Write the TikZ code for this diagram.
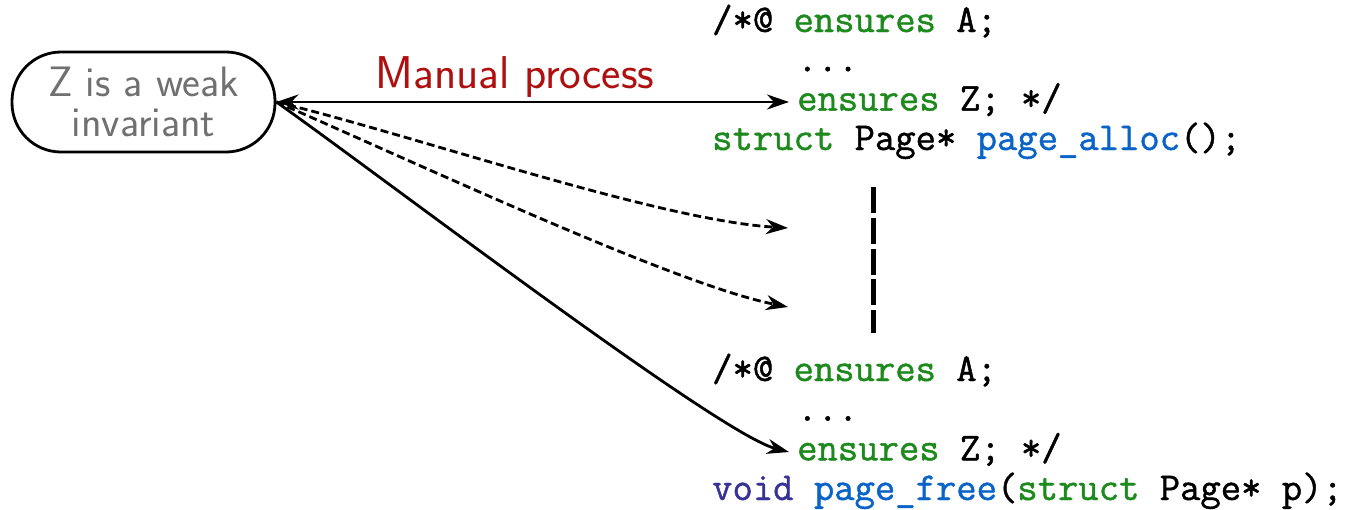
\documentclass[tikz,border=0pt]{standalone}
\usepackage{fontspec}
\usetikzlibrary{arrows.meta,calc}
\newfontfamily\codefont{Latin Modern Mono}[FakeBold=1.2]
\definecolor{kwgreen}{RGB}{30,138,30}
\definecolor{fnblue}{RGB}{10,100,200}
\definecolor{tyblue}{RGB}{55,50,150}
\definecolor{mred}{RGB}{175,15,15}
\definecolor{txtgray}{RGB}{112,112,112}
\newcommand{\kw}[1]{\textcolor{kwgreen}{#1}}
\newcommand{\fn}[1]{\textcolor{fnblue}{#1}}
\newcommand{\ty}[1]{\textcolor{tyblue}{#1}}
\begin{document}
\begin{tikzpicture}[x=1pt,y=-1pt,
  code/.style={anchor=base west, inner sep=0pt,
    font=\codefont\fontsize{39.5}{40}\selectfont},
  link/.style={line width=2.8pt, -{Stealth[length=22pt,width=15pt,inset=7pt]}},
  hint/.style={link, dash pattern=on 8pt off 4pt},
  claim/.style={draw, line width=2.8pt, rounded corners=49pt,
    minimum width=263pt, minimum height=100pt, align=center,
    text=txtgray, font=\sffamily\fontsize{42.5}{40}\selectfont},
  gap/.style={line width=5pt, dash pattern=on 26pt off 4.75pt}]
\useasboundingbox (0,0) rectangle (1354,509);

% invariant bubble and label
\node[claim] (inv) at (143.5,102) {Z is a weak\\invariant};
\node[anchor=base, inner sep=0pt, text=mred,
  font=\sffamily\fontsize{46}{46}\selectfont] (lbl) at (515,88) {Manual process};

% allocation contract
\node[code] (a1) at (712,32)    {/*@ \kw{ensures} A;};
\node[code] (a2) at (797,71.3)  {...};
\node[code] (a3) at (797,110.6) {\kw{ensures} Z; */};
\node[code] (a4) at (712,150)   {\kw{struct} Page* \fn{page\_alloc}();};

% free contract
\node[code] (f1) at (712,381)   {/*@ \kw{ensures} A;};
\node[code] (f2) at (797,420.7) {...};
\node[code] (f3) at (797,460.3) {\kw{ensures} Z; */};
\node[code] (f4) at (712,500)   {\ty{void} \fn{page\_free}(\kw{struct} Page* p);};

% elided functions in between
\coordinate (t1) at (788,228);
\coordinate (t2) at (788,307);
\coordinate (g1) at (873,187);
\coordinate (g2) at (873,333);
\draw[gap] (g1) -- (g2);

% arrow ends just before the ensures clauses
\coordinate (a3in) at ($(a3.base west)+(-8,-8.6)$);
\coordinate (f3in) at ($(f3.base west)+(-8,-8.3)$);

% connectors
\draw[link, {Stealth[length=22pt,width=15pt,inset=7pt]}-{Stealth[length=22pt,width=15pt,inset=7pt]}]
  (inv.east) -- (a3in);
\draw[hint] (inv.east) .. controls +(140,34) and +(-130,-8) .. (t1);
\draw[hint] (inv.east) .. controls +(160,70) and +(-110,-22) .. (t2);
\draw[link] (inv.east) .. controls +(110,78) and +(-70,-18) .. (f3in);
\end{tikzpicture}
\end{document}
